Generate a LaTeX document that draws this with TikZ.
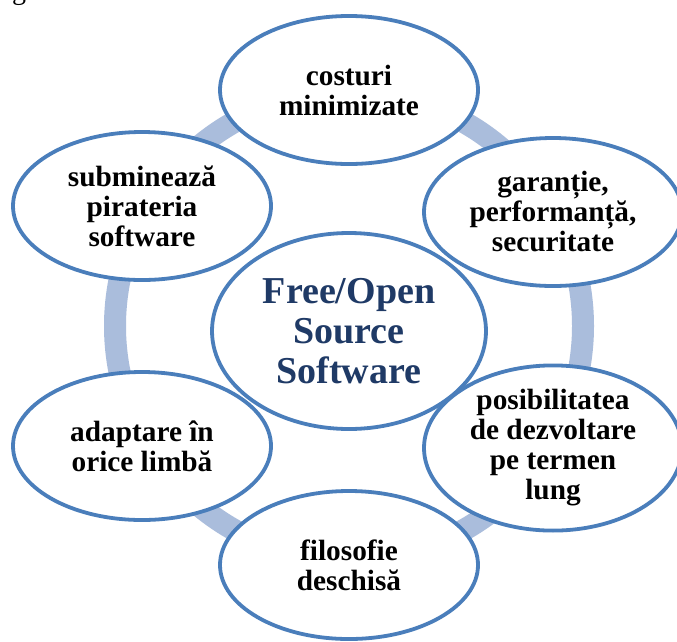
\documentclass[tikz,border=0pt]{standalone}
\usepackage{fontspec}
\setmainfont{Liberation Serif}
\usetikzlibrary{shapes.geometric}
\definecolor{rimblue}{HTML}{4A7EBB}
\definecolor{ringblue}{HTML}{AABDDC}
\definecolor{navy}{HTML}{1F3A66}
\begin{document}
\begin{tikzpicture}[x=1pt,y=-1pt,
  bubble/.style={ellipse, draw=rimblue, line width=3.8pt, fill=white,
    minimum width=258pt, minimum height=148pt, inner sep=0pt, align=center,
    font=\fontsize{29.3}{30}\selectfont\bfseries},
  hub/.style={bubble, minimum width=274pt, minimum height=196pt, text=navy,
    font=\fontsize{38}{40}\selectfont\bfseries},
  ringline/.style={draw=ringblue, line width=22pt}]
\useasboundingbox (0,0) rectangle (677,641);
\fill[white] (0,0) rectangle (677,641);
% tail of a letter from the line above
\node[anchor=base west, inner sep=0pt, font=\fontsize{28}{30}\selectfont] (tail) at (12,-1) {g};
% connecting ring behind the bubbles
\coordinate (ringc) at (349,326);
\draw[ringline] (ringc) circle[radius=234pt];
% outer bubbles
\node[bubble] (costs) at (349,90) {costuri\\minimizate};
\node[bubble] (warranty) at (553,212) {garanție,\\performanță,\\securitate};
\node[bubble] (growth) at (553,448) {posibilitatea\\de dezvoltare\\pe termen\\lung};
\node[bubble] (philo) at (349,565) {filosofie\\deschisă};
\node[bubble] (lang) at (142,446) {adaptare în\\orice limbă};
\node[bubble] (piracy) at (142,206) {subminează\\pirateria\\software};
% central bubble
\node[hub] (foss) at (349,331) {Free/Open\\Source\\Software};
\end{tikzpicture}
\end{document}
